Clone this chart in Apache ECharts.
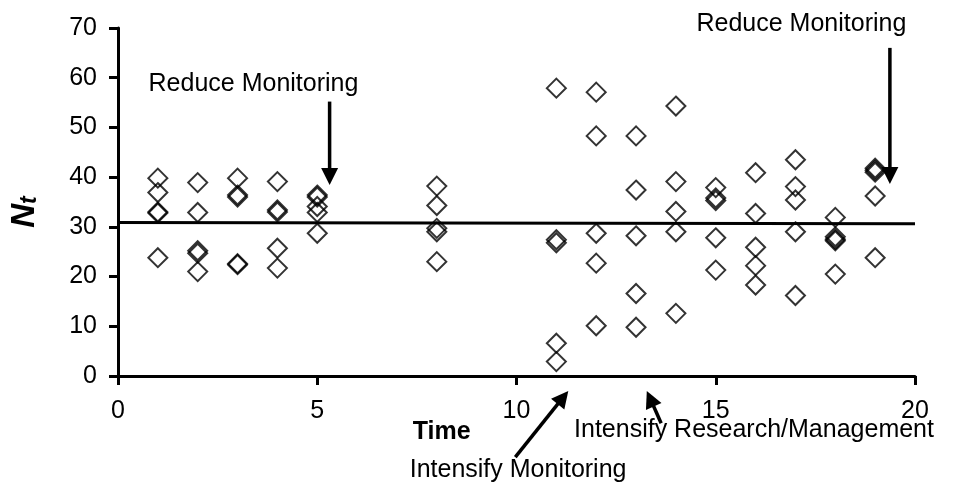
<!DOCTYPE html>
<html>
<head>
<meta charset="utf-8">
<title>Nt over time</title>
<script src="https://cdn.jsdelivr.net/npm/echarts@6/dist/echarts.min.js"></script>
<style>
  html, body { margin: 0; padding: 0; background: #fff; }
  #chart { width: 954px; height: 487px; }
</style>
</head>
<body>
<div id="chart"></div>
<script>
// sampling times and the replicate counts read at each one
const times = [1, 2, 3, 4, 5, 8, 11, 12, 13, 14, 15, 16, 17, 18, 19]
const counts = [
  [39.8, 36.9, 33.0, 32.8, 23.8],
  [38.9, 32.9, 25.2, 24.7, 21.0],
  [39.8, 36.4, 36.0, 22.6, 22.4],
  [39.1, 33.4, 33.0, 25.7, 21.7],
  [36.4, 36.0, 34.1, 32.9, 28.7],
  [38.2, 34.3, 29.7, 29.0, 23.0],
  [57.9, 27.4, 26.8, 6.6, 2.9],
  [57.1, 48.3, 28.7, 22.7, 10.1],
  [48.3, 37.4, 28.2, 16.6, 9.8],
  [54.3, 39.1, 33.1, 29.0, 12.6],
  [37.9, 35.8, 35.3, 27.8, 21.3],
  [40.9, 32.7, 25.9, 22.2, 18.3],
  [43.5, 38.1, 35.4, 29.0, 16.2],
  [31.9, 28.0, 27.5, 27.2, 20.5],
  [41.8, 41.4, 41.0, 36.2, 23.8]
]
// fitted level line
const trendX = [0, 20]
const trendY = [30.9, 30.6]

const xTicks = [0, 5, 10, 15, 20]
const yTicks = [0, 10, 20, 30, 40, 50, 60, 70]

// annotations, in data units (time, Nt)
const notes = [
  { text: 'Reduce Monitoring', at: [3.4, 58.7] },
  { text: 'Reduce Monitoring', at: [17.15, 70.7] },
  { text: 'Time', at: [8.12, -11.2], bold: true },
  { text: 'Intensify Monitoring', at: [10.04, -18.9] },
  { text: 'Intensify Research/Management', at: [15.96, -10.8] }
]
const arrows = [
  { from: [5.31, 55.2], to: [5.31, 38.4] },
  { from: [19.37, 66.0], to: [19.37, 38.6] },
  { from: [9.97, -16.3], to: [11.3, -3.0] },
  { from: [13.63, -9.5], to: [13.27, -3.0] }
]

const font = '"Liberation Sans", Arial, sans-serif'

const points = []
times.forEach((t, i) => {
  counts[i].forEach(v => points.push([t, v]))
})

const chart = echarts.init(document.getElementById('chart'))
chart.setOption({
  animation: false,
  backgroundColor: '#fff',
  grid: {
    left: 117,
    right: 39,
    top: 28,
    bottom: 111
  },
  xAxis: {
    type: 'value',
    min: xTicks[0],
    max: xTicks[xTicks.length - 1],
    interval: 5,
    splitLine: { show: false },
    axisLine: { onZero: false, lineStyle: { color: '#000', width: 3 } },
    axisTick: { length: 9, lineStyle: { color: '#000', width: 3 } },
    axisLabel: { margin: 23, color: '#000', fontSize: 25, fontFamily: font }
  },
  yAxis: {
    type: 'value',
    min: yTicks[0],
    max: yTicks[yTicks.length - 1],
    interval: 10,
    splitLine: { show: false },
    axisLine: { show: true, lineStyle: { color: '#000', width: 3 } },
    axisTick: { show: true, length: 9, lineStyle: { color: '#000', width: 3 } },
    axisLabel: { margin: 21, color: '#000', fontSize: 25, fontFamily: font },
    name: '{n|N}{t|t}',
    nameLocation: 'middle',
    nameGap: 77,
    nameTextStyle: {
      padding: [0, 20, 0, 0],
      rich: {
        n: { fontSize: 33, fontWeight: 'bold', fontStyle: 'italic', fontFamily: font, color: '#000', verticalAlign: 'bottom' },
        t: { fontSize: 23, fontWeight: 'bold', fontStyle: 'italic', fontFamily: font, color: '#000', verticalAlign: 'bottom' }
      }
    }
  },
  series: [
    {
      type: 'line',
      data: trendX.map((x, i) => [x, trendY[i]]),
      symbol: 'none',
      lineStyle: { color: '#000', width: 3 },
      z: 1
    },
    {
      type: 'scatter',
      data: points,
      symbol: 'diamond',
      symbolSize: 19,
      itemStyle: { color: 'rgba(0,0,0,0)', borderColor: '#000', borderWidth: 2 },
      z: 2
    }
  ]
})

// annotation arrows and captions placed through the grid's own scales
const toPx = p => chart.convertToPixel({ gridIndex: 0 }, p)
const graphics = []
arrows.forEach(a => {
  const p0 = toPx(a.from)
  const p1 = toPx(a.to)
  const dx = p1[0] - p0[0]
  const dy = p1[1] - p0[1]
  const len = Math.sqrt(dx * dx + dy * dy)
  const ux = dx / len
  const uy = dy / len
  const head = 17
  const half = 8.5
  const bx = p1[0] - ux * head
  const by = p1[1] - uy * head
  graphics.push({
    type: 'line',
    z: 10,
    shape: { x1: p0[0], y1: p0[1], x2: bx + ux, y2: by + uy },
    style: { stroke: '#000', lineWidth: 3.5 }
  })
  graphics.push({
    type: 'polygon',
    z: 10,
    shape: { points: [p1, [bx - uy * half, by + ux * half], [bx + uy * half, by - ux * half]] },
    style: { fill: '#000' }
  })
})
notes.forEach(n => {
  const p = toPx(n.at)
  graphics.push({
    type: 'text',
    z: 10,
    x: p[0],
    y: p[1],
    style: {
      text: n.text,
      fill: '#000',
      font: (n.bold ? 'bold ' : '') + '25px ' + font,
      align: 'center',
      verticalAlign: 'middle'
    }
  })
})
chart.setOption({ graphic: graphics })
</script>
</body>
</html>
